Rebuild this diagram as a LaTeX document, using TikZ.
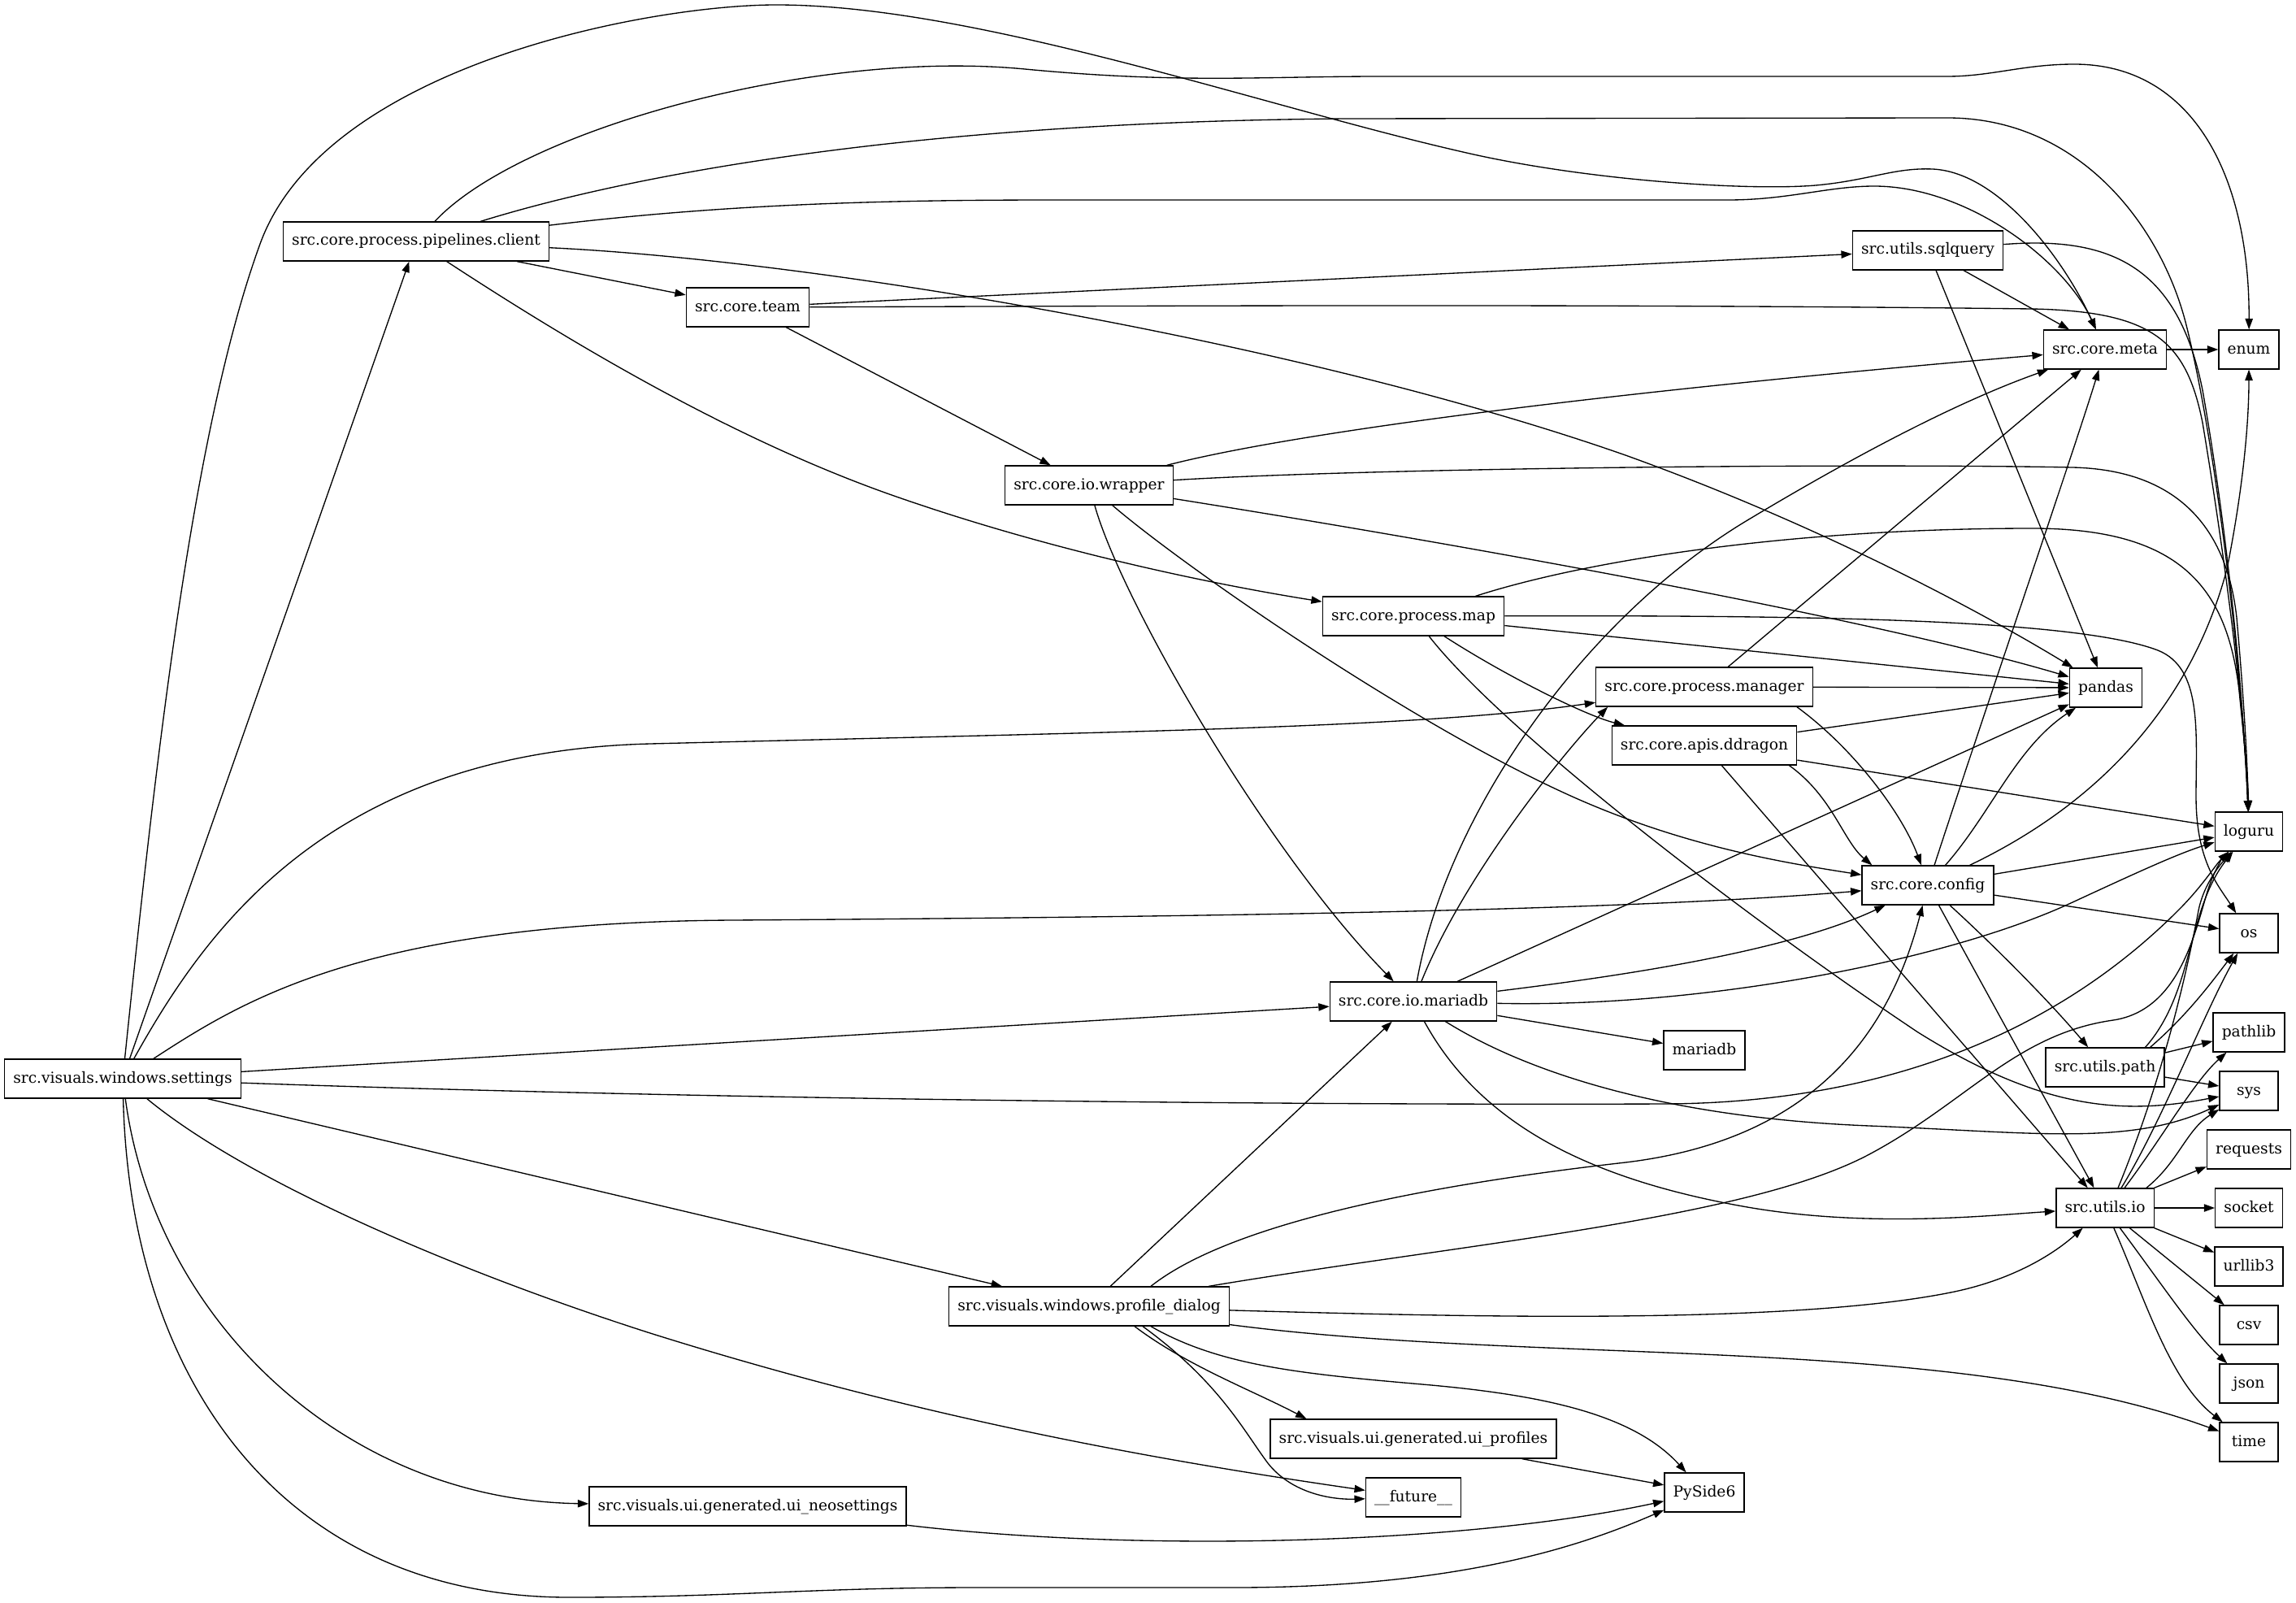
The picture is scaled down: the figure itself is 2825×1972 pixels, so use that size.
\documentclass[tikz,border=0pt]{standalone}
\usepackage{fontspec}
\setmainfont{DejaVu Serif}
\usetikzlibrary{arrows.meta,calc}
\tikzset{
	mod/.style={draw, rectangle, line width=1pt, minimum height=36pt, minimum width=54pt,
		inner xsep=8pt, inner ysep=0pt, text height=10.5pt, text depth=3pt,
		font=\fontsize{14}{17}\selectfont},
	dep/.style={line width=1pt, -{Triangle[length=10pt,width=7pt]}}
}
\begin{document}
\begin{tikzpicture}[x=0.75pt,y=-0.75pt]
	\useasboundingbox (0,0) rectangle (2825,1972);

	\node[mod] (S) at (151,1327) {src.visuals.windows.settings};
	\node[mod] (PC) at (512,297) {src.core.process.pipelines.client};
	\node[mod] (TM) at (920,378) {src.core.team};
	\node[mod] (SQ) at (2372,308) {src.utils.sqlquery};
	\node[mod] (ME) at (2590,430) {src.core.meta};
	\node[mod] (EN) at (2767,430) {enum};
	\node[mod] (WR) at (1340,597) {src.core.io.wrapper};
	\node[mod] (MAP) at (1739,758) {src.core.process.map};
	\node[mod] (MAN) at (2097,845) {src.core.process.manager};
	\node[mod] (PA) at (2591,846) {pandas};
	\node[mod] (DD) at (2097,917) {src.core.apis.ddragon};
	\node[mod] (LG) at (2767,1023) {loguru};
	\node[mod] (CF) at (2372,1089) {src.core.config};
	\node[mod] (OS) at (2767,1148) {os};
	\node[mod] (MDB) at (1739,1232) {src.core.io.mariadb};
	\node[mod] (MA) at (2097,1292) {mariadb};
	\node[mod] (PL) at (2767,1270) {pathlib};
	\node[mod] (UP) at (2590,1313) {src.utils.path};
	\node[mod] (SY) at (2767,1342) {sys};
	\node[mod] (RQ) at (2767,1414) {requests};
	\node[mod] (UIO) at (2590,1486) {src.utils.io};
	\node[mod] (SO) at (2767,1486) {socket};
	\node[mod] (UL) at (2767,1558) {urllib3};
	\node[mod] (PD) at (1340,1607) {src.visuals.windows.profile\_dialog};
	\node[mod] (CSV) at (2767,1630) {csv};
	\node[mod] (JS) at (2767,1702) {json};
	\node[mod] (UPR) at (1739,1770) {src.visuals.ui.generated.ui\_profiles};
	\node[mod] (TI) at (2767,1774) {time};
	\node[mod] (PY) at (2097,1836) {PySide6};
	\node[mod] (FU) at (1739,1842) {\_\_future\_\_};
	\node[mod] (UNS) at (920,1853) {src.visuals.ui.generated.ui\_neosettings};

	\foreach \a/\b in {S/PC, S/MDB, PC/TM, TM/SQ, TM/WR, SQ/ME, SQ/PA, ME/EN, MAN/ME, MAN/PA,
			MAP/PA, DD/PA, DD/LG, DD/UIO, CF/LG, CF/OS, CF/UIO, MDB/PA, MDB/MA, UP/PL, UP/SY,
			UIO/RQ, UIO/SO, UIO/UL, UIO/CSV, PD/MDB, UPR/PY}{
			\draw[dep] (\a) -- (\b);
		}

	\draw[dep] (S) .. controls (195,900) and (240,520) .. (320,300) .. controls (400,80) and (800,6) .. (955,6) .. controls (1200,6) and (1550,130) .. (1800,187) .. controls (1950,222) and (2150,235) .. (2234,228) .. controls (2300,222) and (2330,206) .. (2378,208) .. controls (2460,212) and (2540,320) .. (ME);
	\draw[dep] (S) .. controls (250,1150) and (400,925) .. (800,915) .. controls (1400,900) and (1750,895) .. (MAN);
	\draw[dep] (S) .. controls (300,1230) and (450,1135) .. (900,1132) .. controls (1500,1128) and (2000,1120) .. (CF);
	\draw[dep] (S) .. controls (800,1350) and (1500,1360) .. (2050,1358) .. controls (2350,1356) and (2550,1250) .. (2680,1120) .. controls (2710,1090) and (2725,1065) .. (LG);
	\draw[dep] (S) -- ($(PD.north west)+(66,0)$);
	\draw[dep] (S) .. controls (300,1450) and (550,1560) .. (800,1640) .. controls (1150,1750) and (1450,1800) .. (FU);
	\draw[dep] (S) .. controls (190,1620) and (420,1845) .. (UNS);
	\draw[dep] (S) .. controls (160,1700) and (350,1965) .. (700,1965) .. controls (900,1965) and (1000,1953) .. (1200,1953) -- (1518,1953) .. controls (1800,1953) and (1950,1900) .. (PY);

	\draw[dep] (PC) .. controls (700,420) and (900,540) .. (1100,610) .. controls (1300,680) and (1500,720) .. (MAP);
	\draw[dep] (PC) .. controls (640,160) and (1000,60) .. (1261,85) .. controls (1450,103) and (1550,94) .. (1700,94) -- (2396,94) .. controls (2450,94) and (2490,79) .. (2552,79) .. controls (2700,79) and (2768,220) .. (EN);
	\draw[dep] (PC) .. controls (760,220) and (1100,150) .. (1658,146) -- (2396,145) .. controls (2560,145) and (2660,280) .. (2690,400) .. controls (2730,560) and (2760,850) .. (LG);
	\draw[dep] (PC) .. controls (900,250) and (1100,246) .. (1300,246) -- (2126,246) .. controls (2200,246) and (2250,229) .. (2306,229) .. controls (2420,229) and (2540,320) .. (ME);
	\draw[dep] (PC) .. controls (1000,320) and (1600,420) .. (2000,560) .. controls (2250,650) and (2450,760) .. (PA);

	\draw[dep] (TM) .. controls (1500,376) and (2000,374) .. (2500,380) .. controls (2650,383) and (2690,420) .. (2710,520) .. controls (2740,700) and (2762,880) .. (LG);
	\draw[dep] (SQ) .. controls (2600,290) and (2680,330) .. (2710,480) .. controls (2740,650) and (2760,850) .. (LG);

	\draw[dep] (WR) .. controls (1600,530) and (2000,480) .. (ME);
	\draw[dep] (WR) .. controls (1700,575) and (2300,570) .. (2550,575) .. controls (2680,578) and (2740,650) .. (2752,760) .. controls (2760,850) and (2765,930) .. (LG);
	\draw[dep] (WR) .. controls (1800,670) and (2300,760) .. (PA);
	\draw[dep] (WR) .. controls (1460,700) and (1750,900) .. (1946,985) .. controls (2080,1043) and (2200,1062) .. (CF);
	\draw[dep] (WR) .. controls (1380,740) and (1560,1050) .. (MDB);

	\draw[dep] (MAP) .. controls (1950,690) and (2200,650) .. (2500,650) .. controls (2680,650) and (2740,720) .. (2755,850) .. controls (2762,920) and (2766,960) .. (LG);
	\draw[dep] (MAP) .. controls (2200,757) and (2550,760) .. (2655,800) .. controls (2710,822) and (2702,900) .. (2702,980) .. controls (2702,1060) and (2730,1090) .. (OS);
	\draw[dep] (MAP) .. controls (1850,830) and (1950,880) .. (DD);
	\draw[dep] (MAP) .. controls (1850,900) and (2150,1130) .. (2360,1270) .. controls (2520,1370) and (2620,1370) .. (SY);

	\draw[dep] ($(MAN.south east)+(-20,0)$) .. controls (2280,920) and (2340,1000) .. ($(CF.north)+(-8,0)$);
	\draw[dep] ($(DD.south east)+(-10,0)$) .. controls (2255,980) and (2268,1035) .. ($(CF.north west)+(13,0)$);

	\draw[dep] (CF) .. controls (2440,880) and (2550,560) .. (ME);
	\draw[dep] (CF) .. controls (2450,1000) and (2480,920) .. (PA);
	\draw[dep] (CF) .. controls (2600,980) and (2700,850) .. (2740,700) .. controls (2760,600) and (2767,520) .. (EN);
	\draw[dep] (CF) .. controls (2450,1160) and (2520,1230) .. (UP);

	\draw[dep] (MDB) .. controls (1780,1000) and (1950,760) .. (2150,640) .. controls (2300,550) and (2420,490) .. (ME);
	\draw[dep] (MDB) .. controls (1800,1080) and (1920,930) .. ($(MAN.south west)+(15,0)$);
	\draw[dep] (MDB) .. controls (2000,1200) and (2200,1170) .. (CF);
	\draw[dep] (MDB) .. controls (2100,1240) and (2400,1180) .. (2550,1110) .. controls (2630,1073) and (2680,1050) .. (LG);
	\draw[dep] (MDB) .. controls (1880,1320) and (2050,1375) .. (2300,1385) .. controls (2500,1393) and (2620,1410) .. (SY);
	\draw[dep] (MDB) .. controls (1820,1380) and (1950,1450) .. (2150,1485) .. controls (2300,1511) and (2450,1495) .. (UIO);

	\draw[dep] ($(UP.north east)+(-24,0)$) .. controls (2700,1220) and (2690,1120) .. (LG);
	\draw[dep] ($(UP.north east)+(-18,0)$) .. controls (2690,1250) and (2720,1210) .. (OS);

	\draw[dep] ($(UIO.north)+(16,0)$) .. controls (2660,1330) and (2690,1200) .. (2705,1120) .. controls (2712,1085) and (2735,1060) .. (LG);
	\draw[dep] ($(UIO.north)+(20,0)$) .. controls (2660,1380) and (2710,1250) .. (OS);
	\draw[dep] ($(UIO.north)+(24,0)$) .. controls (2660,1400) and (2700,1330) .. (PL);
	\draw[dep] ($(UIO.north east)+(-10,0)$) .. controls (2680,1430) and (2690,1390) .. (SY);
	\draw[dep] (UIO) .. controls (2660,1580) and (2700,1640) .. (JS);
	\draw[dep] (UIO) .. controls (2640,1600) and (2670,1700) .. (TI);

	\draw[dep] ($(PD.north)+(76,0)$) .. controls (1520,1500) and (1780,1455) .. (2000,1430) .. controls (2250,1400) and (2330,1250) .. (CF);
	\draw[dep] (PD) .. controls (1800,1530) and (2150,1500) .. (2300,1420) .. controls (2420,1356) and (2480,1272) .. (2600,1255) .. controls (2680,1243) and (2700,1150) .. (2715,1100) .. controls (2722,1075) and (2735,1055) .. (LG);
	\draw[dep] (PD) .. controls (1800,1620) and (2200,1630) .. (2400,1590) .. controls (2480,1574) and (2530,1540) .. (UIO);
	\draw[dep] (PD) .. controls (1900,1680) and (2400,1640) .. (TI);
	\draw[dep] ($(PD.south)+(76,0)$) .. controls (1500,1680) and (1600,1690) .. (1750,1703) .. controls (1900,1716) and (2010,1740) .. (PY);
	\draw[dep] ($(PD.south)+(56,0)$) .. controls (1460,1680) and (1540,1710) .. ($(UPR.north west)+(45,0)$);
	\draw[dep] ($(PD.south)+(66,0)$) .. controls (1500,1700) and (1530,1760) .. (1560,1800) .. controls (1590,1838) and (1640,1845) .. (FU);

	\draw[dep] (UNS) .. controls (1400,1910) and (1800,1900) .. (PY);
\end{tikzpicture}
\end{document}
